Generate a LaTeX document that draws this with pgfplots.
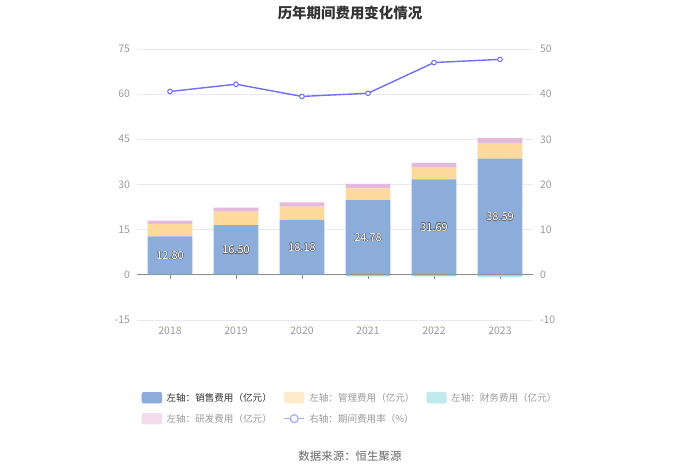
\documentclass[border=0pt]{standalone}
\usepackage{fontspec}
\setmainfont{Noto Sans CJK SC}
\usepackage{pgfplots}
\pgfplotsset{compat=1.18}
\definecolor{cSales}{HTML}{8CACDA}
\definecolor{cAdmin}{HTML}{FDD99B}
\definecolor{cFin}{HTML}{8EDDE0}
\definecolor{cRD}{HTML}{E4B9DC}
\definecolor{cLine}{HTML}{6F6FF2}
\definecolor{cGrid}{HTML}{E6EAF2}
\definecolor{cTick}{HTML}{9A9A9A}
\definecolor{cAxis}{HTML}{8C8C8C}
\definecolor{lAdmin}{HTML}{FEEBCB}
\definecolor{lFin}{HTML}{C0EAEC}
\definecolor{lRD}{HTML}{F2DCEE}
\definecolor{lLine}{HTML}{A9A9F7}
\definecolor{cOut}{HTML}{606060}
\definecolor{cTitle}{HTML}{333333}
\definecolor{cSrc}{HTML}{666666}
\newcommand{\sh}[3]{\makebox[0pt][l]{\hspace*{#1}\raisebox{#2}{\textcolor{cOut}{#3}}}}
\newcommand{\outl}[1]{\sh{-0.4bp}{0bp}{#1}\sh{0.4bp}{0bp}{#1}\sh{0bp}{0.4bp}{#1}\sh{0bp}{-0.4bp}{#1}\sh{-0.3bp}{0.3bp}{#1}\sh{0.3bp}{0.3bp}{#1}\sh{-0.3bp}{-0.3bp}{#1}\sh{0.3bp}{-0.3bp}{#1}\textcolor{white}{#1}}
\newcommand{\lt}[2]{\makebox[121.5bp][l]{\hspace*{4.5bp}\textcolor{#1}{#2}}}
\pgfplotsset{base/.style={scale only axis, width=396bp, height=271bp,
  at={(137bp,153bp)}, anchor=south west, xmin=-0.5, xmax=5.5,
  ticklabel style={font=\fontsize{10.5}{12}\selectfont, text=cTick},
  /pgf/number format/assume math mode=true}}
\begin{document}
\begin{tikzpicture}
\path[use as bounding box] (0bp,0bp) rectangle (700bp,473bp);
\node[font=\fontsize{14.5}{16}\selectfont\bfseries, text=cTitle] at (350bp,460.5bp) {历年期间费用变化情况};
\node[font=\fontsize{11.5}{13}\selectfont, text=cSrc] at (350bp,17.3bp) {数据来源：恒生聚源};
% left axis: stacked bars
\begin{axis}[base, ymin=-15, ymax=75, ytick={-15,0,15,30,45,60,75},
  ybar stacked, bar width=0.68,
  axis line style={draw=none}, major tick length=0pt,
  ymajorgrids, grid style={cGrid, line width=0.8bp},
  xtick={0,1,2,3,4,5}, xticklabels={2018,2019,2020,2021,2022,2023},
  yticklabel style={xshift=-3.5bp}, xticklabel style={yshift=-3bp},
  legend columns=3,
  legend style={at={(axis description cs:0.0119,-0.248)}, anchor=north west,
    draw=none, fill=none, inner sep=0pt, outer sep=0pt, row sep=0pt, column sep=0pt,
    font=\fontsize{9.6}{11}\selectfont,
    nodes={inner sep=0pt, text height=14.5bp, text depth=6.5bp}},
  legend cell align=left]
\addplot[fill=cSales, draw=none, forget plot] coordinates {(0,12.80) (1,16.50) (2,18.18) (3,24.78) (4,31.69) (5,38.59)};
\addplot[fill=cAdmin, draw=none, forget plot] coordinates {(0,4.1) (1,4.5) (2,4.5) (3,3.9) (4,3.9) (5,5.0)};
\addplot[fill=cRD, draw=none, forget plot] coordinates {(0,1.1) (1,1.3) (2,1.4) (3,1.5) (4,1.6) (5,1.8)};
\addlegendimage{legend image code/.code={\fill[cSales, rounded corners=2bp] (0bp,-5.5bp) rectangle (20bp,5.5bp);}}
\addlegendentry{\lt{cTitle}{左轴：销售费用（亿元）}}
\addlegendimage{legend image code/.code={\fill[lAdmin, rounded corners=2bp] (0bp,-5.5bp) rectangle (20bp,5.5bp);}}
\addlegendentry{\lt{cTick}{左轴：管理费用（亿元）}}
\addlegendimage{legend image code/.code={\fill[lFin, rounded corners=2bp] (0bp,-5.5bp) rectangle (20bp,5.5bp);}}
\addlegendentry{\lt{cTick}{左轴：财务费用（亿元）}}
\addlegendimage{legend image code/.code={\fill[lRD, rounded corners=2bp] (0bp,-5.5bp) rectangle (20bp,5.5bp);}}
\addlegendentry{\lt{cTick}{左轴：研发费用（亿元）}}
\addlegendimage{legend image code/.code={\draw[lLine, line width=1.2bp] (0bp,0bp) -- (20bp,0bp); \draw[lLine, line width=1.2bp, fill=white] (10bp,0bp) circle (4bp);}}
\addlegendentry{\lt{cTick}{右轴：期间费用率（\%）}}
\end{axis}
% finance bars, zero line, bar labels
\begin{axis}[base, ymin=-15, ymax=75,
  axis x line=middle, axis y line=none,
  x axis line style={cAxis, line width=0.8bp, -},
  xtick={0,1,2,3,4,5}, xticklabels={}, major tick length=4bp, xtick align=outside,
  tick style={cAxis, line width=0.8bp}, ytick=\empty]
\addplot[ybar, bar width=0.68, fill=cFin, draw=none] coordinates {(0,-0.1) (1,-0.1) (2,-0.1) (3,-0.5) (4,-0.5) (5,-0.6)};
\addplot[draw=none, mark=none, point meta=explicit symbolic,
  nodes near coords={\outl{\pgfplotspointmeta}},
  nodes near coords style={anchor=center, font=\fontsize{11}{13}\selectfont}]
  coordinates {(0,6.40)[12.80] (1,8.25)[16.50] (2,9.09)[18.18] (3,12.39)[24.78] (4,15.845)[31.69] (5,19.295)[38.59]};
\end{axis}
% right axis: line
\begin{axis}[base, ymin=-10, ymax=50, ytick={-10,0,10,20,30,40,50},
  axis y line*=right, axis x line=none, y axis line style={draw=none},
  major tick length=0pt, yticklabel style={xshift=3.5bp}]
\addplot[cLine, line width=1.4bp, mark=*, mark size=2.3bp, mark options={fill=white, line width=1bp}]
  coordinates {(0,40.6) (1,42.2) (2,39.5) (3,40.2) (4,47.0) (5,47.7)};
\end{axis}
\end{tikzpicture}
\end{document}
